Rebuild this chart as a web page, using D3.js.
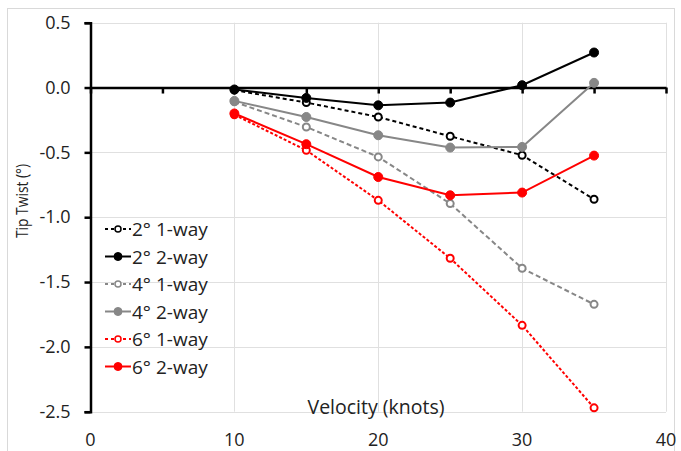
<html>
  <head>
    <meta charset="utf-8" />
    <script src="https://cdnjs.cloudflare.com/ajax/libs/d3/7.6.1/d3.min.js"></script>
    <style>
      body { margin: 0; background: #fff; }
      svg { font-family: "Open Sans", sans-serif; }
    </style>
  </head>
  <body>
    <svg width="681" height="451"></svg>
  </body>
  <script>
    let velocity = [10, 15, 20, 25, 30, 35];
    let twist2deg1way = [-0.02, -0.116, -0.227, -0.376, -0.522, -0.862];
    let twist2deg2way = [-0.015, -0.08, -0.137, -0.116, 0.018, 0.27];
    let twist4deg1way = [-0.11, -0.304, -0.535, -0.895, -1.394, -1.672];
    let twist4deg2way = [-0.103, -0.227, -0.368, -0.463, -0.458, 0.036];
    let twist6deg1way = [-0.21, -0.484, -0.87, -1.317, -1.834, -2.47];
    let twist6deg2way = [-0.2, -0.437, -0.69, -0.831, -0.81, -0.525];
    let seriesNames = ["2° 1-way", "2° 2-way", "4° 1-way", "4° 2-way", "6° 1-way", "6° 2-way"];
    let xTicks = [0, 10, 20, 30, 40];
    let yTicks = [0.5, 0.0, -0.5, -1.0, -1.5, -2.0, -2.5];

    let series = [
      { name: seriesNames[0], values: twist2deg1way, color: "#000000", dash: "4,3", open: true },
      { name: seriesNames[1], values: twist2deg2way, color: "#000000", dash: null, open: false },
      { name: seriesNames[2], values: twist4deg1way, color: "#878787", dash: "5,3", open: true },
      { name: seriesNames[3], values: twist4deg2way, color: "#878787", dash: null, open: false },
      { name: seriesNames[4], values: twist6deg1way, color: "#ff0000", dash: "3,2", open: true },
      { name: seriesNames[5], values: twist6deg2way, color: "#ff0000", dash: null, open: false },
    ];

    let svg = d3.select("svg");
    let x = d3.scaleLinear().domain([0, 40]).range([90.5, 666]);
    let y = d3.scaleLinear().domain([-2.5, 0.5]).range([411.7, 22.7]);

    // chart border
    svg.append("rect").attr("x", 7.5).attr("y", 8.5).attr("width", 667).attr("height", 460)
      .style("fill", "none").style("stroke", "#d9d9d9");

    // gridlines
    svg.append("g").selectAll("line.h").data(yTicks).enter().append("line")
      .attr("x1", x(0)).attr("x2", x(40))
      .attr("y1", (d) => Math.round(y(d)) + 0.5).attr("y2", (d) => Math.round(y(d)) + 0.5)
      .style("stroke", "#e0e0e0");
    svg.append("g").selectAll("line.v").data(xTicks.slice(1)).enter().append("line")
      .attr("x1", (d) => Math.round(x(d)) + 0.5).attr("x2", (d) => Math.round(x(d)) + 0.5)
      .attr("y1", y(0.5)).attr("y2", y(-2.5))
      .style("stroke", "#e0e0e0");

    // y axis (hyphen minus like Excel)
    let fmt = (d) => d3.format(".1f")(d).replace("−", "-");
    let yAxis = d3.axisLeft(y).tickValues(yTicks).tickFormat(fmt).tickSize(6).tickPadding(14);
    let gy = svg.append("g").attr("transform", `translate(${x(0)},0)`).call(yAxis);
    gy.select(".domain").style("stroke", "#000").style("stroke-width", 2.5);
    gy.selectAll(".tick line").style("stroke", "#000").style("stroke-width", 2.5);
    gy.selectAll(".tick text").style("font-size", "18px").style("fill", "#222").attr("font-family", "Open Sans");

    // x axis at zero, ticks every 5
    let xAxis = d3.axisBottom(x).tickValues(d3.range(0, 41, 5)).tickFormat("").tickSize(6).tickSizeOuter(0);
    let gx = svg.append("g").attr("transform", `translate(0,${y(0)})`).call(xAxis);
    gx.select(".domain").style("stroke", "#000").style("stroke-width", 2.5);
    gx.selectAll(".tick line").style("stroke", "#000").style("stroke-width", 2.5);

    // x tick labels at the bottom
    svg.append("g").selectAll("text").data(xTicks).enter().append("text")
      .attr("x", (d) => x(d)).attr("y", 446)
      .attr("text-anchor", "middle").style("font-size", "18px").style("fill", "#222")
      .text((d) => d);

    // axis titles
    svg.append("text").attr("x", 376).attr("y", 414).attr("text-anchor", "middle")
      .style("font-size", "19.5px").style("fill", "#222").text("Velocity (knots)");
    svg.append("text").attr("transform", "translate(28,201) rotate(-90)").attr("text-anchor", "middle")
      .attr("textLength", 74).attr("lengthAdjust", "spacingAndGlyphs")
      .style("font-size", "17px").style("fill", "#222").text("Tip Twist (°)");

    // lines
    let line = d3.line().x((d, i) => x(velocity[i])).y((d) => y(d));
    let groups = svg.append("g").selectAll("g.series").data(series).enter().append("g");
    groups.append("path")
      .attr("d", (d) => line(d.values))
      .style("fill", "none").style("stroke", (d) => d.color).style("stroke-width", 2)
      .style("stroke-dasharray", (d) => d.dash);
    groups.each(function (s) {
      d3.select(this).selectAll("circle").data(s.values).enter().append("circle")
        .attr("cx", (d, i) => x(velocity[i])).attr("cy", (d) => y(d))
        .attr("r", s.open ? 3.5 : 4.5)
        .style("fill", s.open ? "#fff" : s.color)
        .style("stroke", s.color).style("stroke-width", s.open ? 2 : 1);
    });

    // legend
    let legend = svg.append("g").selectAll("g.leg").data(series).enter().append("g")
      .attr("transform", (d, i) => `translate(105,${229 + i * 27.5})`);
    legend.append("line").attr("x1", 0).attr("x2", 26).attr("y1", 0).attr("y2", 0)
      .style("stroke", (d) => d.color).style("stroke-width", 2)
      .style("stroke-dasharray", (d) => (d.dash ? "3,3" : null));
    legend.append("circle").attr("cx", 13).attr("cy", 0).attr("r", (d) => (d.open ? 3 : 4))
      .style("fill", (d) => (d.open ? "#fff" : d.color))
      .style("stroke", (d) => d.color).style("stroke-width", (d) => (d.open ? 1.5 : 1));
    legend.append("text").attr("x", 27).attr("y", 7)
      .style("font-size", "19px").style("fill", "#222").text((d) => d.name);
  </script>
</html>
